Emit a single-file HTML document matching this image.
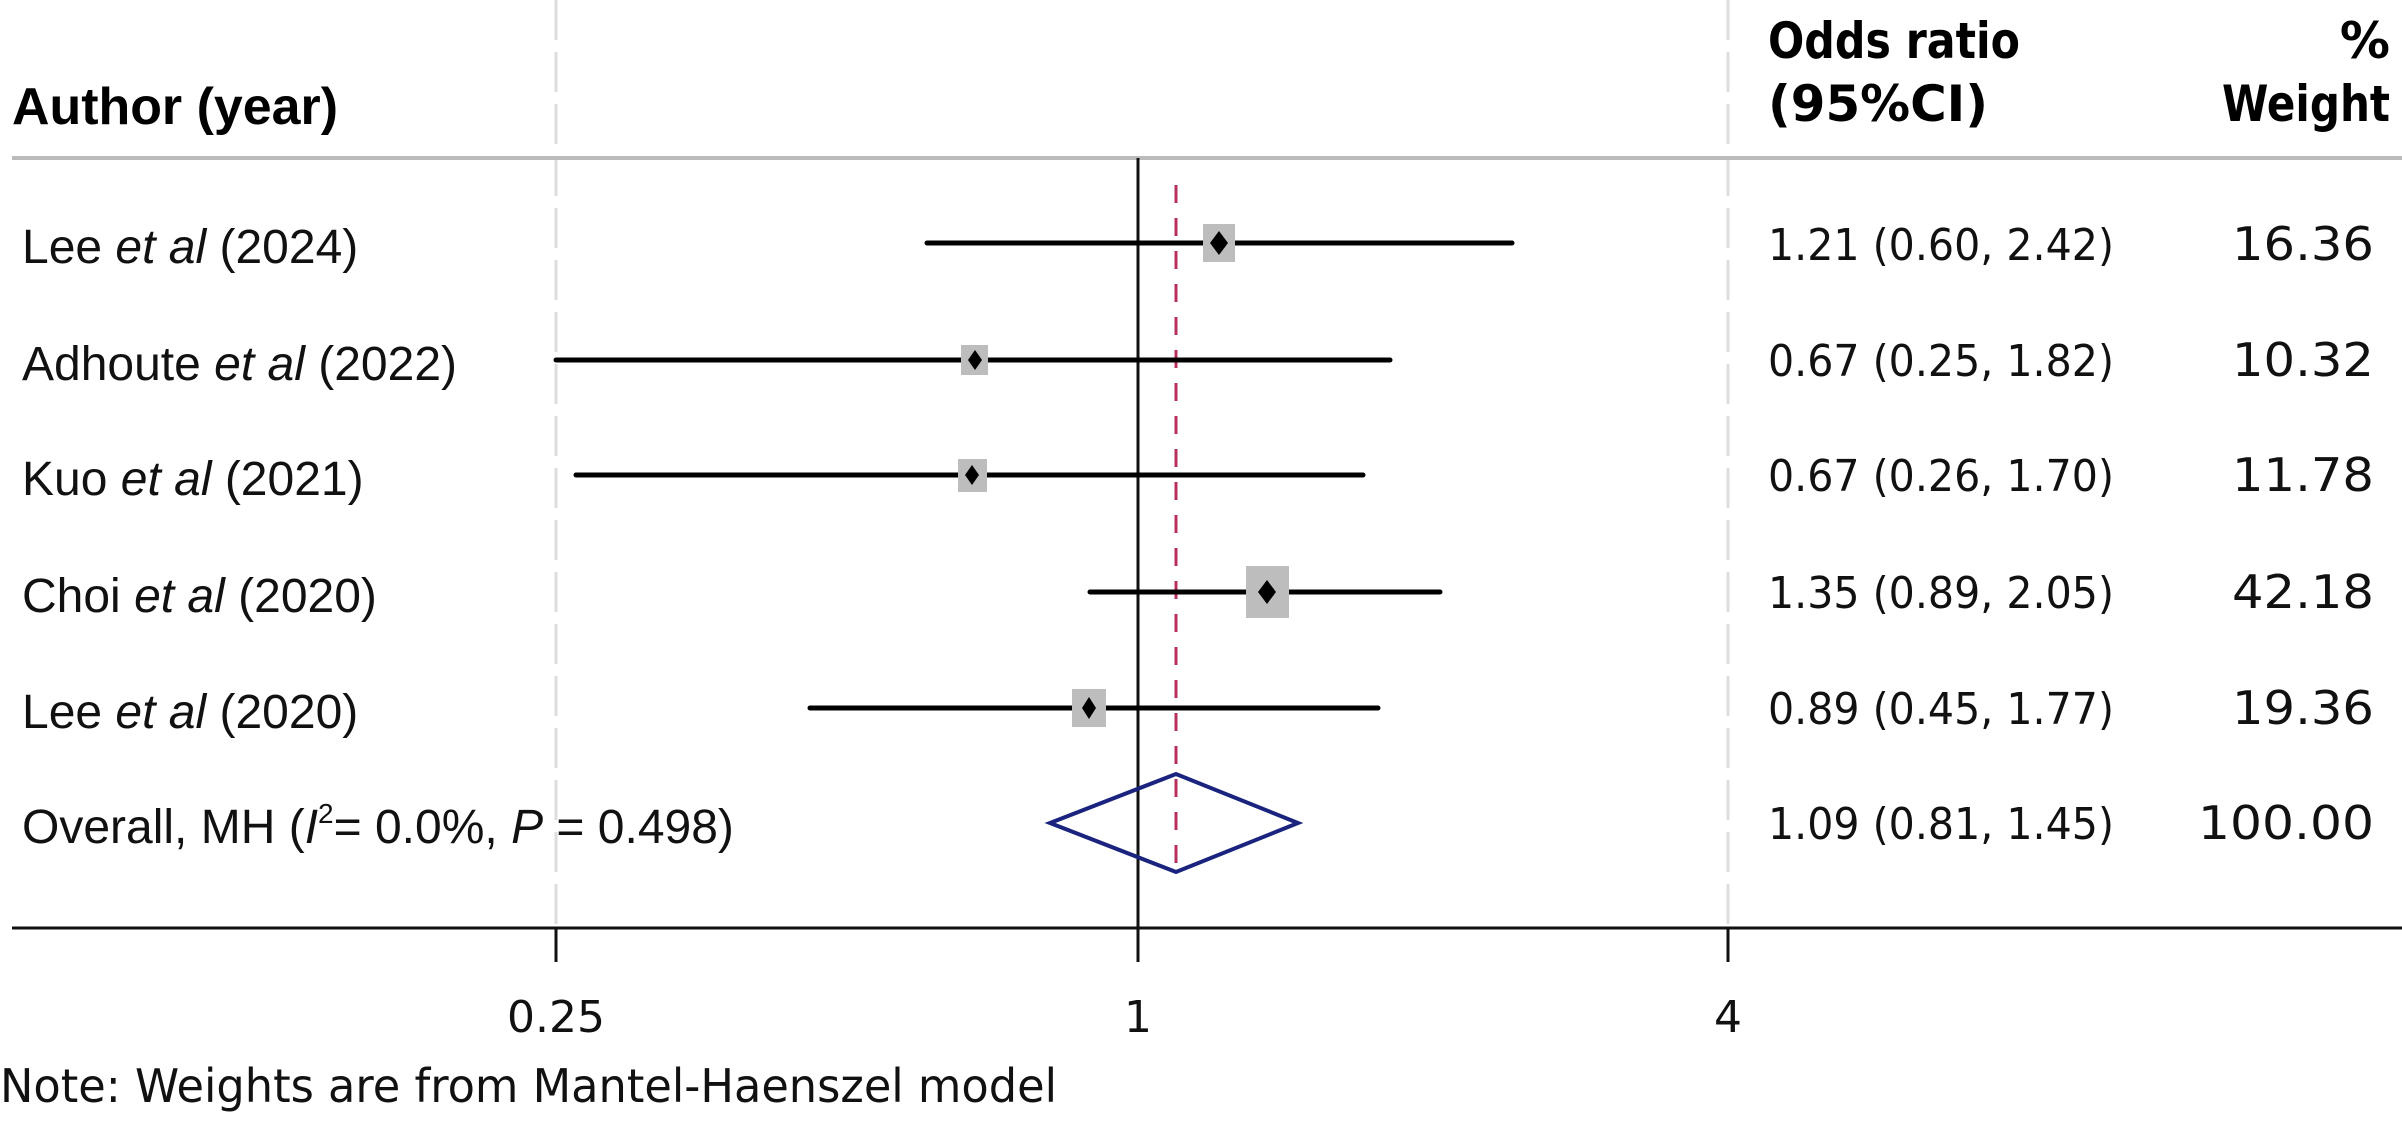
<!DOCTYPE html>
<html><head><meta charset="utf-8"><style>html,body{margin:0;padding:0;background:#fff}svg{display:block}</style></head>
<body>
<svg width="2402" height="1128" viewBox="0 0 2402 1128" xmlns="http://www.w3.org/2000/svg">
<rect width="2402" height="1128" fill="#fff"/>
<line x1="556" y1="0" x2="556" y2="928" stroke="#ddd" stroke-width="3" stroke-dasharray="40,12"/>
<line x1="1728" y1="0" x2="1728" y2="928" stroke="#ddd" stroke-width="3" stroke-dasharray="40,12"/>
<line x1="12" y1="158" x2="2402" y2="158" stroke="#bbb" stroke-width="4"/>
<line x1="12" y1="928" x2="2402" y2="928" stroke="#111" stroke-width="3"/>
<line x1="556" y1="928" x2="556" y2="962" stroke="#111" stroke-width="3"/>
<line x1="1138" y1="158" x2="1138" y2="962" stroke="#111" stroke-width="3"/>
<line x1="1728" y1="928" x2="1728" y2="962" stroke="#111" stroke-width="3"/>
<line x1="1176" y1="185" x2="1176" y2="878" stroke="#b8305a" stroke-width="3" stroke-dasharray="18,15"/>
<g stroke="#000" stroke-width="5" stroke-linecap="round">
<line x1="927" y1="243" x2="1512" y2="243"/>
<line x1="556" y1="360" x2="1390" y2="360"/>
<line x1="576" y1="475" x2="1363" y2="475"/>
<line x1="1090" y1="592" x2="1440" y2="592"/>
<line x1="810" y1="708" x2="1378" y2="708"/>
</g>
<g fill="#bdbdbd">
<rect x="1203" y="224" width="32" height="38"/>
<rect x="961" y="345" width="27" height="30"/>
<rect x="958" y="459" width="29" height="33"/>
<rect x="1246" y="566" width="43" height="52"/>
<rect x="1072" y="689" width="34" height="38"/>
</g>
<g fill="#000">
<path d="M1219 231 L1228 243 L1219 255 L1210 243Z"/>
<path d="M975 350 L982 360 L975 370 L968 360Z"/>
<path d="M972 465 L979 475 L972 485 L965 475Z"/>
<path d="M1267 580 L1276 592 L1267 604 L1258 592Z"/>
<path d="M1089 697 L1096 708 L1089 719 L1082 708Z"/>
</g>
<path d="M1050 823 L1176 774 L1298 823 L1176 872Z" fill="none" stroke="#1a237e" stroke-width="4"/>
<g font-family="'DejaVu Sans',sans-serif" font-weight="bold" font-size="50" fill="#000">
<text x="12" y="124" font-family="'Liberation Sans',sans-serif" font-size="52" textLength="326" lengthAdjust="spacingAndGlyphs">Author (year)</text>
<text x="1768" y="58" textLength="252" lengthAdjust="spacingAndGlyphs">Odds ratio</text>
<text x="1768" y="121" textLength="220" lengthAdjust="spacingAndGlyphs">(95%CI)</text>
<text x="2390" y="58" text-anchor="end">%</text>
<text x="2390" y="121" text-anchor="end" textLength="168" lengthAdjust="spacingAndGlyphs">Weight</text>
</g>
<g font-family="'Liberation Sans',sans-serif" font-size="48" fill="#111">
<text x="22" y="263">Lee <tspan font-style="italic">et al</tspan> (2024)</text>
<text x="22" y="380">Adhoute <tspan font-style="italic">et al</tspan> (2022)</text>
<text x="22" y="495">Kuo <tspan font-style="italic">et al</tspan> (2021)</text>
<text x="22" y="612">Choi <tspan font-style="italic">et al</tspan> (2020)</text>
<text x="22" y="728">Lee <tspan font-style="italic">et al</tspan> (2020)</text>
<text x="22" y="843">Overall, MH (<tspan font-style="italic">I</tspan><tspan font-size="28" dy="-20">2</tspan><tspan dy="20">= 0.0%, </tspan><tspan font-style="italic">P</tspan> = 0.498)</text>
</g>
<g font-family="'DejaVu Sans',sans-serif" font-size="44" fill="#111">
<text x="1768" y="260" textLength="346" lengthAdjust="spacingAndGlyphs">1.21 (0.60, 2.42)</text>
<text x="1768" y="376" textLength="346" lengthAdjust="spacingAndGlyphs">0.67 (0.25, 1.82)</text>
<text x="1768" y="491" textLength="346" lengthAdjust="spacingAndGlyphs">0.67 (0.26, 1.70)</text>
<text x="1768" y="608" textLength="346" lengthAdjust="spacingAndGlyphs">1.35 (0.89, 2.05)</text>
<text x="1768" y="724" textLength="346" lengthAdjust="spacingAndGlyphs">0.89 (0.45, 1.77)</text>
<text x="1768" y="839" textLength="346" lengthAdjust="spacingAndGlyphs">1.09 (0.81, 1.45)</text>
<g text-anchor="end" font-size="46">
<text x="2374" y="260" textLength="142" lengthAdjust="spacingAndGlyphs">16.36</text>
<text x="2374" y="376" textLength="142" lengthAdjust="spacingAndGlyphs">10.32</text>
<text x="2374" y="491" textLength="142" lengthAdjust="spacingAndGlyphs">11.78</text>
<text x="2374" y="608" textLength="142" lengthAdjust="spacingAndGlyphs">42.18</text>
<text x="2374" y="724" textLength="142" lengthAdjust="spacingAndGlyphs">19.36</text>
<text x="2374" y="839" textLength="176" lengthAdjust="spacingAndGlyphs">100.00</text>
</g>
</g>
<g font-family="'DejaVu Sans',sans-serif" font-size="44" fill="#111" text-anchor="middle">
<text x="556" y="1032">0.25</text>
<text x="1138" y="1032">1</text>
<text x="1728" y="1032">4</text>
</g>
<text x="0" y="1102" font-family="'DejaVu Sans',sans-serif" font-size="46" fill="#111" textLength="1057" lengthAdjust="spacingAndGlyphs">Note: Weights are from Mantel-Haenszel model</text>
</svg>
</body></html>
